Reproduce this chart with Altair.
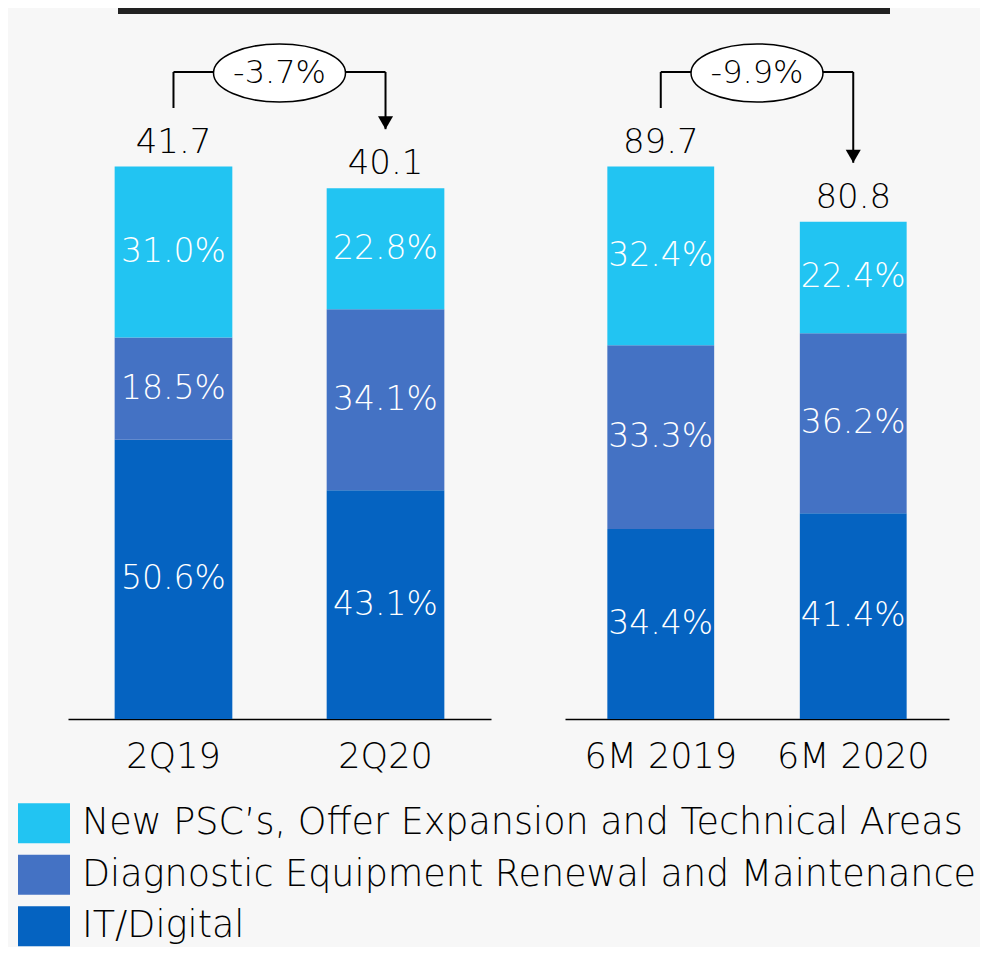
import altair as alt
import pandas as pd

# ---------------- data ----------------
periods_left = ["2Q19", "2Q20"]
periods_right = ["6M 2019", "6M 2020"]
totals_left = [41.7, 40.1]
totals_right = [89.7, 80.8]
changes = ["-3.7%", "-9.9%"]

categories = [
    "New PSC’s, Offer Expansion and Technical Areas",
    "Diagnostic Equipment Renewal and Maintenance",
    "IT/Digital",
]
colors = ["#22C4F2", "#4472C4", "#0563C1"]

# percentages per period (left panel then right panel)
pct_new_left = [31.0, 22.8]
pct_diag_left = [18.5, 34.1]
pct_it_left = [50.6, 43.1]
pct_new_right = [32.4, 22.4]
pct_diag_right = [33.3, 36.2]
pct_it_right = [34.4, 41.4]

# ---------------- layout constants ----------------
FONT = "DejaVu Sans"
FW = 300
H = 700            # plot height of each panel
BAR_PX = 552       # pixel height of the tallest bar in each panel
P_IN, P_OUT = 0.445, 0.22
W_LEFT, W_RIGHT = 423, 384
LINE_Y = 53        # bracket horizontal line (px from panel top)
GAP = 59           # gap between bar top and bracket end (px)
LEG_TOP, LEG_STEP = 778.5, 51.5

color_scale = alt.Scale(domain=categories, range=colors)


def band_centers(width, n):
    step = width / (n - P_IN + 2 * P_OUT)
    bw = step * (1 - P_IN)
    return [P_OUT * step + bw / 2 + i * step for i in range(n)]


def make_panel(periods, totals, p_new, p_diag, p_it, change, width, extra=None):
    ymax = max(totals) * H / BAR_PX
    rows = []
    for i, per in enumerate(periods):
        base = 0.0
        for cat, pcts in [(categories[2], p_it), (categories[1], p_diag), (categories[0], p_new)]:
            v = totals[i] * pcts[i] / 100.0
            rows.append({"period": per, "cat": cat, "y0": base, "y1": base + v,
                         "ymid": base + v / 2, "label": f"{pcts[i]:.1f}%"})
            base += v
    seg = pd.DataFrame(rows)
    tot = pd.DataFrame({"period": periods, "total": totals,
                        "label": [f"{t:.1f}" for t in totals]})

    xenc = alt.X("period:N", sort=periods,
                 scale=alt.Scale(domain=periods, paddingInner=P_IN, paddingOuter=P_OUT),
                 axis=alt.Axis(title=None, labelAngle=0, ticks=False, tickSize=0,
                               domainColor="black", domainWidth=1.5, grid=False,
                               labelFontSize=35, labelColor="black", labelPadding=20,
                               labelFont=FONT, labelFontWeight=FW))

    def yenc(field):
        return alt.Y(field, scale=alt.Scale(domain=[0, ymax], nice=False, zero=True), axis=None)

    bars = alt.Chart(seg).mark_bar().encode(
        x=xenc, y=yenc("y0:Q"), y2="y1:Q",
        color=alt.Color("cat:N", scale=color_scale, legend=None),
    )
    seg_text = alt.Chart(seg).mark_text(color="white", fontSize=33, baseline="middle",
                                        font=FONT, fontWeight=FW).encode(
        x=xenc, y=yenc("ymid:Q"), text="label:N")
    tot_text = alt.Chart(tot).mark_text(color="black", fontSize=34, baseline="alphabetic",
                                        dy=-14, font=FONT, fontWeight=FW).encode(
        x=xenc, y=yenc("total:Q"), text="label:N")

    # bracket with arrow
    verticals = alt.Chart(tot).mark_rule(color="black", strokeWidth=2, yOffset=-GAP).encode(
        x=xenc, y=yenc("total:Q"), y2=alt.value(LINE_Y))
    c = band_centers(width, len(periods))
    mid = (c[0] + c[1]) / 2
    ann = pd.DataFrame({"change": [change]})
    horiz = alt.Chart(ann).mark_rule(color="black", strokeWidth=2).encode(
        x=alt.value(c[0]), x2=alt.value(c[1]), y=alt.value(LINE_Y))
    arrow = alt.Chart(tot.iloc[[1]]).mark_point(
        shape="M-0.58,-1L0.58,-1L0,0Z", size=26 ** 2, filled=True, color="black",
        opacity=1, yOffset=-GAP).encode(
        x=xenc, y=yenc("total:Q"))
    ellipse = alt.Chart(ann).mark_point(
        shape="M-1,0A1,0.44,0,1,0,1,0A1,0.44,0,1,0,-1,0Z", size=132 ** 2,
        fill="white", fillOpacity=1, stroke="black", strokeWidth=1.5, strokeOpacity=1,
        opacity=1).encode(x=alt.value(mid), y=alt.value(LINE_Y + 1))
    ch_text = alt.Chart(ann).mark_text(fontSize=32, baseline="middle", color="black",
                                       font=FONT, fontWeight=FW).encode(
        x=alt.value(mid), y=alt.value(LINE_Y + 1), text="change:N")

    layers = [bars, seg_text, tot_text, verticals, horiz, arrow, ellipse, ch_text]
    if extra is not None:
        layers = layers + extra
    return alt.layer(*layers).resolve_scale(y="independent").properties(width=width, height=H)


top_line = alt.Chart(pd.DataFrame({"a": [0]})).mark_rule(color="#222222", strokeWidth=6).encode(
    x=alt.value(50), x2=alt.value(822), y=alt.value(-8))

# legend (drawn below the left panel)
leg_df = pd.DataFrame({"cat": categories})
leg_y = alt.Y("cat:N", sort=categories,
              scale=alt.Scale(domain=categories, paddingInner=0, paddingOuter=0,
                              range=[LEG_TOP, LEG_TOP + LEG_STEP * len(categories)]),
              axis=None)
leg_sym = alt.Chart(leg_df).mark_point(
    shape="M-1,-0.77L1,-0.77L1,0.77L-1,0.77Z", size=52 ** 2, filled=True, opacity=1).encode(
    x=alt.value(-24), y=leg_y,
    color=alt.Color("cat:N", scale=color_scale, legend=None))
leg_txt = alt.Chart(leg_df).mark_text(align="left", baseline="middle", fontSize=36.5,
                                      color="black", font=FONT, fontWeight=FW).encode(
    x=alt.value(14), y=leg_y, text="cat:N")

left = make_panel(periods_left, totals_left, pct_new_left, pct_diag_left, pct_it_left,
                  changes[0], W_LEFT, extra=[top_line, leg_sym, leg_txt])
right = make_panel(periods_right, totals_right, pct_new_right, pct_diag_right, pct_it_right,
                   changes[1], W_RIGHT)

chart = alt.hconcat(left, right, spacing=74, bounds="flush").properties(
    padding={"left": 10, "top": 0, "right": 4, "bottom": 0},
    background="#F7F7F7",
).configure(font=FONT, view=alt.ViewConfig(stroke="transparent", strokeWidth=0))

chart.save("out.html", embed_options={"renderer": "svg", "actions": False})
